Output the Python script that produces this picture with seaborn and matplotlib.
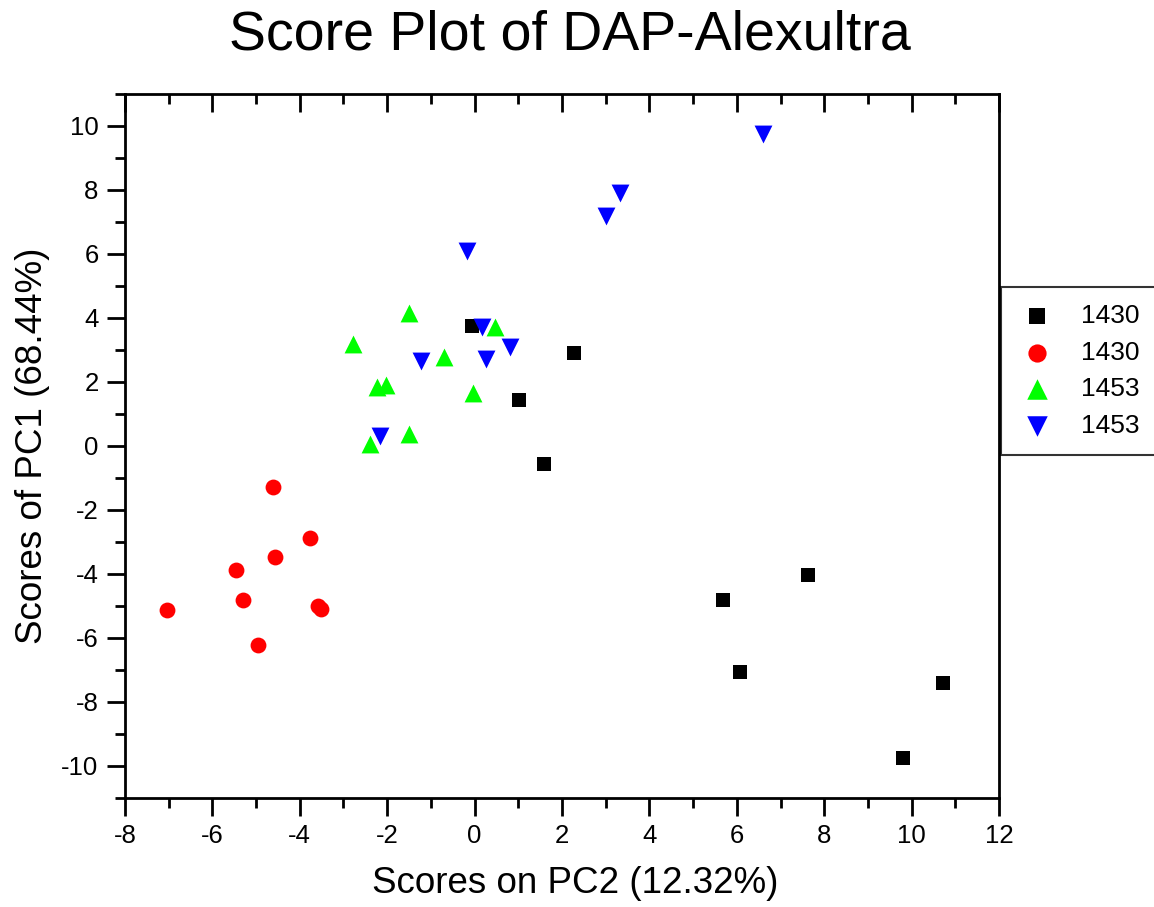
import matplotlib
matplotlib.use("Agg")
import matplotlib.pyplot as plt
from matplotlib.ticker import MultipleLocator, NullFormatter
import seaborn as sns
import pandas as pd

# ---- data ----
sq_x = [-0.06, 2.27, 1.02, 1.59, 5.68, 7.63, 6.07, 10.72, 9.80]
sq_y = [3.76, 2.92, 1.45, -0.55, -4.82, -4.04, -7.07, -7.41, -9.74]

ci_x = [-4.61, -3.77, -4.57, -5.46, -5.29, -7.03, -3.58, -3.51, -4.95]
ci_y = [-1.29, -2.89, -3.47, -3.88, -4.80, -5.13, -5.00, -5.08, -6.23]

up_x = [-1.50, -2.78, -0.70, 0.47, -2.03, -2.23, -0.04, -1.50, -2.39]
up_y = [4.17, 3.20, 2.79, 3.73, 1.92, 1.83, 1.64, 0.36, 0.05]

dn_x = [6.60, 3.33, 3.01, -0.17, 0.17, 0.81, 0.26, -1.23, -2.16]
dn_y = [9.75, 7.91, 7.19, 6.10, 3.73, 3.10, 2.73, 2.64, 0.30]

group_labels = ["1430", "1430 ", "1453", "1453 "]
legend_text = ["1430", "1430", "1453", "1453"]

title = "Score Plot of DAP-Alexultra"
xlabel = "Scores on PC2 (12.32%)"
ylabel = "Scores of PC1 (68.44%)"

df = pd.concat([
    pd.DataFrame({"x": sq_x, "y": sq_y, "g": group_labels[0]}),
    pd.DataFrame({"x": ci_x, "y": ci_y, "g": group_labels[1]}),
    pd.DataFrame({"x": up_x, "y": up_y, "g": group_labels[2]}),
    pd.DataFrame({"x": dn_x, "y": dn_y, "g": group_labels[3]}),
], ignore_index=True)

sns.set_theme(style="white")
plt.rcParams["font.family"] = ["Liberation Sans", "DejaVu Sans"]
plt.rcParams["axes.unicode_minus"] = False
plt.rcParams["text.color"] = "black"
plt.rcParams["axes.labelcolor"] = "black"

fig = plt.figure(figsize=(11.54, 9.07), dpi=100)
ax = fig.add_axes([0.1083, 0.1202, 0.7574, 0.7762])

palette = {group_labels[0]: "#000000", group_labels[1]: "#ff0000",
           group_labels[2]: "#00ff00", group_labels[3]: "#0000ff"}
markers = {group_labels[0]: "s", group_labels[1]: "o",
           group_labels[2]: "^", group_labels[3]: "v"}
sizes = {group_labels[0]: 105, group_labels[1]: 130,
         group_labels[2]: 165, group_labels[3]: 165}

for g in group_labels:
    sub = df[df["g"] == g]
    sns.scatterplot(data=sub, x="x", y="y", color=palette[g], marker=markers[g],
                    s=sizes[g], linewidth=0, ax=ax, label=g, zorder=3)

ax.set_xlim(-8, 12)
ax.set_ylim(-11, 11)
ax.xaxis.set_major_locator(MultipleLocator(2))
ax.xaxis.set_minor_locator(MultipleLocator(1))
ax.set_yticks(range(-10, 11, 2))
ax.yaxis.set_minor_locator(MultipleLocator(1))

for s in ax.spines.values():
    s.set_color("black")
    s.set_linewidth(2)

ax.tick_params(axis="both", which="both", direction="out", color="black",
               width=2, labelsize=18.5, labelcolor="black",
               top=False, right=False, bottom=True, left=True)
ax.tick_params(axis="both", which="major", length=13, pad=6)
ax.tick_params(axis="both", which="minor", length=7)

# inward ticks on the top edge
top = ax.twiny()
top.set_xlim(ax.get_xlim())
top.xaxis.set_major_locator(MultipleLocator(2))
top.xaxis.set_minor_locator(MultipleLocator(1))
top.xaxis.set_major_formatter(NullFormatter())
top.tick_params(axis="x", which="both", direction="in", width=2, color="black",
                top=True, bottom=False, labeltop=False)
top.tick_params(axis="x", which="major", length=13)
top.tick_params(axis="x", which="minor", length=7)
for s in top.spines.values():
    s.set_visible(False)

ax.set_xlabel(xlabel, fontsize=26.5, color="black", labelpad=13)
ax.set_ylabel(ylabel, fontsize=26.5, color="black", labelpad=8)
ax.xaxis.label.set_x(0.515)
fig.text(0.494, 0.99, title, fontsize=40, ha="center", va="top", color="black")

leg = ax.legend(loc="upper left", bbox_to_anchor=(1.002, 0.726), frameon=True,
                fancybox=False, edgecolor="black", fontsize=19,
                borderpad=0.65, labelspacing=0.48, handlelength=1.45,
                handletextpad=0.95, markerscale=1.15, borderaxespad=0)
leg.get_frame().set_linewidth(1.5)
for t, lt in zip(leg.get_texts(), legend_text):
    t.set_text(lt)

fig.savefig("out.png", dpi=100)
